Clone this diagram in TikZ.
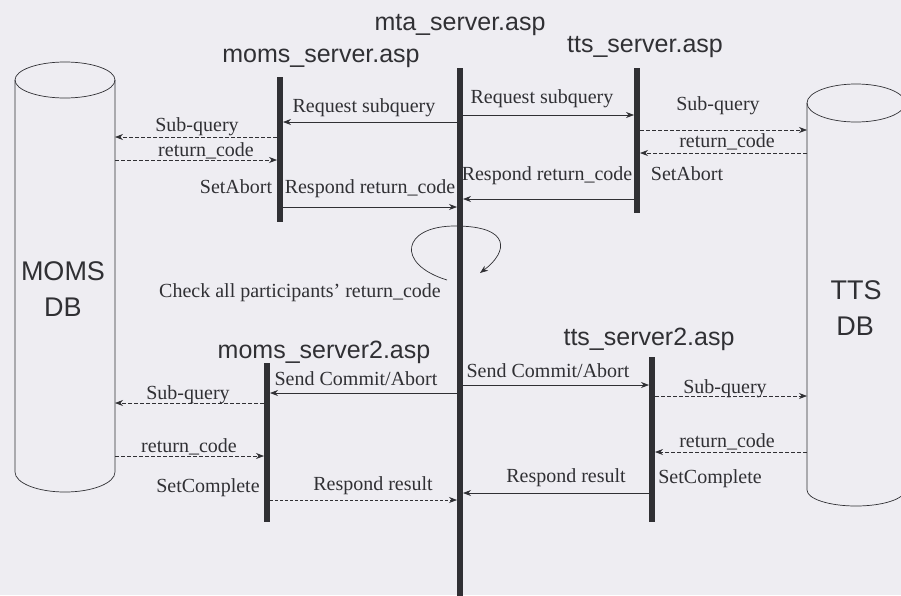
\documentclass[tikz,border=0pt]{standalone}
\usepackage{fontspec}
\setmainfont{Liberation Serif}
\newfontfamily\arialfont{Liberation Sans}
\usetikzlibrary{calc, positioning, arrows.meta}
\definecolor{paper}{RGB}{238,237,242}
\definecolor{ink}{RGB}{48,48,52}

\begin{document}
\begin{tikzpicture}[>={Stealth[length=8pt,width=6pt]}, x=1pt, y=-1pt,
  lifeline/.style={line width=5.5pt, ink},
  msg/.style={->, ink, line width=0.7pt},
  dbmsg/.style={msg, dash pattern=on 4pt off 2pt},
  lbl/.style={font=\fontsize{20}{22}\selectfont, text=ink, anchor=base, inner sep=0pt},
  svc/.style={font=\arialfont\fontsize{25}{28}\selectfont, text=ink, anchor=base, inner sep=0pt},
  dbname/.style={font=\arialfont\fontsize{27}{30}\selectfont, text=ink, anchor=base, inner sep=0pt}]
  \clip (0,0) rectangle (901,595);
  \fill[paper] (0,0) rectangle (901,595);

  % databases
  \draw[ink, line width=0.7pt] (65,80) ellipse [x radius=50pt, y radius=18pt];
  \draw[ink, line width=0.7pt] (15,80) -- (15,472)
     arc[start angle=180, end angle=360, x radius=50pt, y radius=20pt] -- (115,80);
  \draw[ink, line width=0.7pt] (856,103) ellipse [x radius=49pt, y radius=19pt];
  \draw[ink, line width=0.7pt] (807,103) -- (807,490)
     arc[start angle=180, end angle=360, x radius=49pt, y radius=16pt] -- (905,103);
  \coordinate (momsdb) at (115,80);
  \coordinate (ttsdb) at (807,103);
  \node[dbname] (momsA) at (63,280) {MOMS};
  \node[dbname] (momsB) at (63,316) {DB};
  \node[dbname] (ttsA) at (856,299) {TTS};
  \node[dbname] (ttsB) at (855,335) {DB};

  % check loop on mta
  \coordinate (loopA) at (447,280);
  \coordinate (loopB) at (480,273);
  \draw[msg] (loopA) .. controls (395,264) and (402,226) .. (455,226)
     .. controls (512,226) and (508,252) .. (loopB);

  % lifelines
  \coordinate (mta) at (460,68);
  \coordinate (moms) at (280,77);
  \coordinate (tts) at (637,68);
  \coordinate (moms2) at (267,363);
  \coordinate (tts2) at (652,357);
  \draw[lifeline] (mta) -- (mta |- 0,600);
  \draw[lifeline] (moms) -- (moms |- 0,222);
  \draw[lifeline] (tts) -- (tts |- 0,213);
  \draw[lifeline] (moms2) -- (moms2 |- 0,522);
  \draw[lifeline] (tts2) -- (tts2 |- 0,522);
  \node[svc] (mtaL) at (460,30) {mta\_server.asp};
  \node[svc] (momsL) at (321,62) {moms\_server.asp};
  \node[svc] (ttsL) at (645,52) {tts\_server.asp};
  \node[svc] (moms2L) at (324,358) {moms\_server2.asp};
  \node[svc] (tts2L) at (649,345) {tts\_server2.asp};

  % phase 1
  \draw[msg, shorten <=3pt, shorten >=3pt] (mta |- 0,122) -- (moms |- 0,122);
  \draw[msg, shorten <=3pt, shorten >=3pt] (mta |- 0,115) -- (tts |- 0,115);
  \draw[dbmsg, shorten <=3pt] (moms |- 0,137) -- (momsdb |- 0,137);
  \draw[dbmsg, shorten >=3pt] (momsdb |- 0,160) -- (moms |- 0,160);
  \draw[dbmsg, shorten <=3pt] (tts |- 0,130) -- (ttsdb |- 0,130);
  \draw[dbmsg, shorten >=3pt] (ttsdb |- 0,153) -- (tts |- 0,153);
  \draw[msg, shorten <=3pt, shorten >=3pt] (moms |- 0,207) -- (mta |- 0,207);
  \draw[msg, shorten <=3pt, shorten >=3pt] (tts |- 0,199) -- (mta |- 0,199);
  \node[lbl] (req1) at (364,112) {Request subquery};
  \node[lbl] (req2) at (542,103) {Request subquery};
  \node[lbl] (sq1) at (197,131) {Sub-query};
  \node[lbl] (rc1) at (206,156) {return\_code};
  \node[lbl] (sq2) at (718,110) {Sub-query};
  \node[lbl] (rc2) at (727,147) {return\_code};
  \node[lbl] (ab1) at (236,193) {SetAbort};
  \node[lbl] (ab2) at (687,180) {SetAbort};
  \node[lbl] (rr1) at (370,193) {Respond return\_code};
  \node[lbl] (rr2) at (547,180) {Respond return\_code};
  \node[lbl] (check) at (300,297) {Check all participants' return\_code};

  % phase 2
  \draw[msg, shorten <=3pt, shorten >=3pt] (mta |- 0,393) -- (moms2 |- 0,393);
  \draw[msg, shorten <=3pt, shorten >=3pt] (mta |- 0,385) -- (tts2 |- 0,385);
  \draw[dbmsg, shorten <=3pt] (moms2 |- 0,403) -- (momsdb |- 0,403);
  \draw[dbmsg, shorten >=3pt] (momsdb |- 0,456) -- (moms2 |- 0,456);
  \draw[msg, densely dashed, shorten <=3pt, shorten >=3pt] (moms2 |- 0,500) -- (mta |- 0,500);
  \draw[dbmsg, shorten <=3pt] (tts2 |- 0,396) -- (ttsdb |- 0,396);
  \draw[dbmsg, shorten >=3pt] (ttsdb |- 0,452) -- (tts2 |- 0,452);
  \draw[msg, shorten <=3pt, shorten >=3pt] (tts2 |- 0,493) -- (mta |- 0,493);
  \node[lbl] (sc1) at (356,385) {Send Commit/Abort};
  \node[lbl] (sc2) at (548,377) {Send Commit/Abort};
  \node[lbl] (sq3) at (188,399) {Sub-query};
  \node[lbl] (rc3) at (189,452) {return\_code};
  \node[lbl] (cp1) at (208,492) {SetComplete};
  \node[lbl] (res1) at (373,490) {Respond result};
  \node[lbl] (sq4) at (725,393) {Sub-query};
  \node[lbl] (rc4) at (727,447) {return\_code};
  \node[lbl] (cp2) at (710,483) {SetComplete};
  \node[lbl] (res2) at (566,482) {Respond result};
\end{tikzpicture}
\end{document}
